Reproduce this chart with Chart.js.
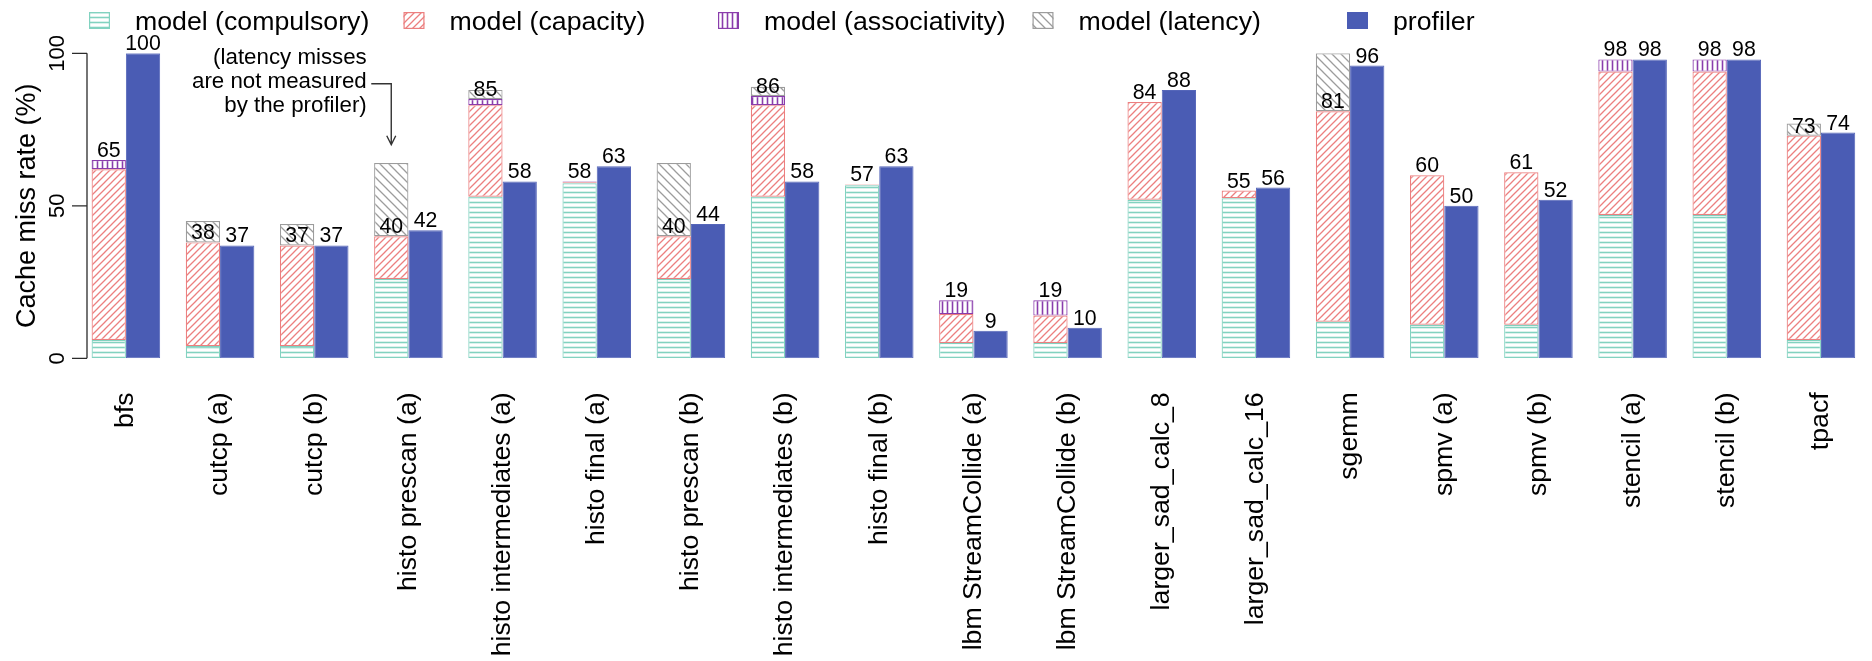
<!DOCTYPE html>
<html>
<head>
<meta charset="utf-8">
<title>Cache miss rate: model vs profiler</title>
<script src="https://cdn.jsdelivr.net/npm/chart.js@4.4.1/dist/chart.umd.min.js"></script>
<style>
  html, body { margin: 0; padding: 0; overflow: hidden; background: #ffffff; }
  #wrap { position: relative; width: 1887px; height: 661px; }
</style>
</head>
<body>
<div id="wrap"><canvas id="chart"></canvas></div>
<script>
// ---- data -----------------------------------------------------------------
const categories = [
  'bfs', 'cutcp (a)', 'cutcp (b)', 'histo prescan (a)', 'histo intermediates (a)',
  'histo final (a)', 'histo prescan (b)', 'histo intermediates (b)', 'histo final (b)',
  'lbm StreamCollide (a)', 'lbm StreamCollide (b)', 'larger_sad_calc_8',
  'larger_sad_calc_16', 'sgemm', 'spmv (a)', 'spmv (b)', 'stencil (a)', 'stencil (b)', 'tpacf'
];
const compulsory    = [6, 4, 4, 26, 53, 57.4, 26, 53, 56.7, 5, 5, 52, 52.5, 12, 11, 11, 47, 47, 6];
const capacity      = [56, 34, 33, 14, 30, 0.3, 14, 30, 0.3, 9.5, 9, 32, 2.5, 69, 49, 50, 47, 47, 67];
const associativity = [3, 0, 0, 0, 2, 0.3, 0, 3, 0, 4.5, 5, 0, 0, 0, 0, 0, 4, 4, 0];
const latency       = [0, 7, 7, 24, 3, 0, 24, 3, 0, 0, 0, 0, 0, 19, 0, 0, 0, 0, 4];
const profiler      = [100, 37, 37, 42, 58, 63, 44, 58, 63, 9, 10, 88, 56, 96, 50, 52, 98, 98, 74];

const yTicks = [0, 50, 100];
const yTitle = 'Cache miss rate (%)';
const seriesNames = ['model (compulsory)', 'model (capacity)', 'model (associativity)', 'model (latency)', 'profiler'];
const noteLines = ['(latency misses', 'are not measured', 'by the profiler)'];
const noteCategory = 'histo prescan (a)';

// ---- styling ----------------------------------------------------------------
const FONT = '"Liberation Sans", Arial, Helvetica, sans-serif';
const COLORS = {
  compulsory: '#82d2c0',
  capacity: '#ec7f7f',
  associativity: '#8a3dac',
  latency: '#9c9c9c',
  profiler: '#4a5cb4'
};

// hatch fills
function hatch(kind, color) {
  const c = document.createElement('canvas');
  const g = c.getContext('2d');
  let w, h;
  if (kind === 'h') { w = 8; h = 5; }
  else if (kind === 'v') { w = 5; h = 8; }
  else if (kind === 'up') { w = 7; h = 7; }
  else { w = 9; h = 9; }
  c.width = w; c.height = h;
  g.fillStyle = '#ffffff';
  g.fillRect(0, 0, w, h);
  g.strokeStyle = color;
  g.lineCap = 'square';
  g.beginPath();
  if (kind === 'h') {
    g.lineWidth = 1.6;
    g.moveTo(0, 2.5); g.lineTo(w, 2.5);
  } else if (kind === 'v') {
    g.lineWidth = 1.6;
    g.moveTo(2.5, 0); g.lineTo(2.5, h);
  } else if (kind === 'up') {
    g.lineWidth = 1.3;
    g.moveTo(0, h); g.lineTo(w, 0);
    g.moveTo(-1, 1); g.lineTo(1, -1);
    g.moveTo(w - 1, h + 1); g.lineTo(w + 1, h - 1);
  } else {
    g.lineWidth = 1.3;
    g.moveTo(0, 0); g.lineTo(w, h);
    g.moveTo(-1, h - 1); g.lineTo(1, h + 1);
    g.moveTo(w - 1, -1); g.lineTo(w + 1, 1);
  }
  g.stroke();
  return g.createPattern(c, 'repeat');
}

const probe = document.createElement('canvas').getContext('2d');
const fills = [
  hatch('h', COLORS.compulsory),
  hatch('up', COLORS.capacity),
  hatch('v', COLORS.associativity),
  hatch('down', COLORS.latency),
  COLORS.profiler
];
const borders = [COLORS.compulsory, COLORS.capacity, COLORS.associativity, COLORS.latency, COLORS.profiler];

function modelDataset(i, data) {
  return {
    label: seriesNames[i], data: data, stack: 'model',
    backgroundColor: fills[i], borderColor: borders[i],
    borderWidth: 1.2, borderSkipped: false
  };
}

const datasets = [
  modelDataset(0, compulsory),
  modelDataset(1, capacity),
  modelDataset(2, associativity),
  modelDataset(3, latency),
  {
    label: seriesNames[4], data: profiler, stack: 'profiler',
    backgroundColor: fills[4], borderColor: '#5566b9',
    borderWidth: 1, borderSkipped: false
  }
];

// ---- plugins: R-style axis, legend, value labels, note ---------------------
const AXIS_GAP = 8.2;       // axis line sits a little left of the first bar group
const TICK_LEN = 15;

const decorations = {
  id: 'decorations',
  afterDraw(chart) {
    const ctx = chart.ctx;
    const ys = chart.scales.y;
    const area = chart.chartArea;
    ctx.save();

    // y axis
    const ax = area.left + AXIS_GAP;
    ctx.strokeStyle = '#2b2b2b';
    ctx.lineWidth = 1.3;
    ctx.beginPath();
    ctx.moveTo(ax, ys.getPixelForValue(yTicks[0]));
    ctx.lineTo(ax, ys.getPixelForValue(yTicks[yTicks.length - 1]));
    yTicks.forEach(t => {
      const py = ys.getPixelForValue(t);
      ctx.moveTo(ax - TICK_LEN, py);
      ctx.lineTo(ax, py);
    });
    ctx.stroke();

    ctx.fillStyle = '#000';
    ctx.font = '22px ' + FONT;
    ctx.textAlign = 'center';
    ctx.textBaseline = 'alphabetic';
    yTicks.forEach(t => {
      const py = ys.getPixelForValue(t);
      ctx.save();
      ctx.translate(ax - 23.5, py);
      ctx.rotate(-Math.PI / 2);
      ctx.fillText(String(t), 0, 0);
      ctx.restore();
    });

    ctx.save();
    ctx.font = '27px ' + FONT;
    ctx.translate(ax - 52, (ys.top + ys.bottom) / 2);
    ctx.rotate(-Math.PI / 2);
    ctx.fillText(yTitle, 0, 0);
    ctx.restore();

    // value labels above the model stack (without latency) and the profiler bar
    const mComp = chart.getDatasetMeta(0);
    const mProf = chart.getDatasetMeta(4);
    ctx.font = '21.3px ' + FONT;
    ctx.textAlign = 'center';
    ctx.textBaseline = 'alphabetic';
    categories.forEach((_, i) => {
      const modelTotal = compulsory[i] + capacity[i] + associativity[i];
      ctx.fillText(String(Math.round(modelTotal)), mComp.data[i].x, ys.getPixelForValue(modelTotal) - 3);
      ctx.fillText(String(profiler[i]), mProf.data[i].x, ys.getPixelForValue(profiler[i]) - 3);
    });

    // note with elbow arrow
    const ni = categories.indexOf(noteCategory);
    const nx = mComp.data[ni].x;
    const elbowY = ys.getPixelForValue(90);
    const tipY = ys.getPixelForValue(70);
    ctx.strokeStyle = '#333';
    ctx.lineWidth = 1.4;
    ctx.beginPath();
    ctx.moveTo(nx - 20, elbowY);
    ctx.lineTo(nx, elbowY);
    ctx.lineTo(nx, tipY);
    ctx.moveTo(nx - 4.5, tipY - 9);
    ctx.lineTo(nx, tipY);
    ctx.lineTo(nx + 4.5, tipY - 9);
    ctx.stroke();
    ctx.font = '22.3px ' + FONT;
    ctx.textAlign = 'right';
    noteLines.forEach((line, k) => {
      ctx.fillText(line, nx - 24.5, elbowY + 4.5 + (k - 1) * 24);
    });

    // legend row
    const LEG_X0 = 89, LEG_STEP = 314.5, SW_W = 21, SW_H = 17, SW_TOP = 12, TXT_DX = 46, TXT_BASE = 29.5;
    ctx.font = '26.7px ' + FONT;
    ctx.textAlign = 'left';
    chart.data.datasets.forEach((ds, i) => {
      const lx = LEG_X0 + i * LEG_STEP;
      ctx.fillStyle = ds.backgroundColor;
      ctx.fillRect(lx, SW_TOP, SW_W, SW_H);
      ctx.strokeStyle = borders[i];
      ctx.lineWidth = 1.2;
      ctx.strokeRect(lx + 0.6, SW_TOP + 0.6, SW_W - 1.2, SW_H - 1.2);
      ctx.fillStyle = '#000';
      ctx.fillText(ds.label, lx + TXT_DX, TXT_BASE);
    });

    ctx.restore();
  }
};

new Chart(document.getElementById('chart'), {
  type: 'bar',
  data: { labels: categories, datasets: datasets },
  options: {
    responsive: true,
    maintainAspectRatio: false,
    animation: false,
    devicePixelRatio: 1,
    layout: { padding: { top: 53.3, left: 78.8, right: 0.5, bottom: 0 } },
    datasets: { bar: { categoryPercentage: 0.728, barPercentage: 1.0 } },
    plugins: { legend: { display: false }, tooltip: { enabled: false } },
    scales: {
      x: {
        stacked: true,
        grid: { display: false, drawTicks: false },
        border: { display: false },
        ticks: {
          autoSkip: false, minRotation: 90, maxRotation: 90, padding: 34,
          color: '#000', font: { family: FONT, size: 26.7 }
        },
        afterFit(scale) { scale.height = 302.7; }
      },
      y: { stacked: true, min: 0, max: 100, display: false }
    }
  },
  plugins: [decorations]
});
</script>
</body>
</html>
